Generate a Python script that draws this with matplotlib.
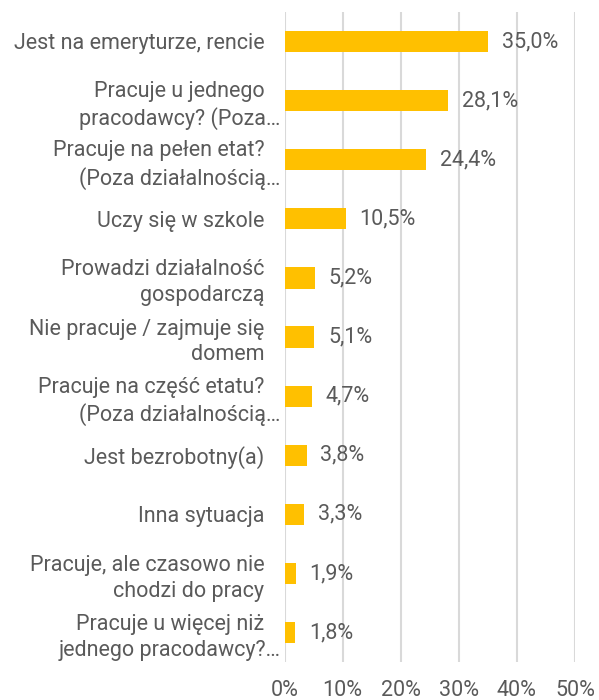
import matplotlib.pyplot as plt
from matplotlib.ticker import FuncFormatter

plt.rcParams['font.family'] = ['Roboto', 'DejaVu Sans']

# data
categories = [
    "Jest na emeryturze, rencie",
    "Pracuje u jednego\npracodawcy? (Poza…",
    "Pracuje na pełen etat?\n(Poza działalnością…",
    "Uczy się w szkole",
    "Prowadzi działalność\ngospodarczą",
    "Nie pracuje / zajmuje się\ndomem",
    "Pracuje na część etatu?\n(Poza działalnością…",
    "Jest bezrobotny(a)",
    "Inna sytuacja",
    "Pracuje, ale czasowo nie\nchodzi do pracy",
    "Pracuje u więcej niż\njednego pracodawcy?…",
]
values = [35.0, 28.1, 24.4, 10.5, 5.2, 5.1, 4.7, 3.8, 3.3, 1.9, 1.8]
xticks = [0, 10, 20, 30, 40, 50]

txt = "#5a5a5a"
bar_col = "#FFC000"
pad_sp = "\u00a0\u00a0\u00a0"


def pad_label(s):
    # word-wrapped lines keep the trailing gap, truncated ones do not
    return "\n".join(l if l.endswith("…") else l + pad_sp for l in s.split("\n"))


fig = plt.figure(figsize=(5.99, 7.0), dpi=100)
ax = fig.add_axes([0.475, 0.054, 0.485, 0.929])

pos = list(range(len(categories)))
ax.barh(pos, values, height=0.36, color=bar_col, zorder=3)
ax.set_ylim(len(categories) - 0.5, -0.5)
ax.set_xlim(0, 50)
ax.set_xticks(xticks)
ax.xaxis.set_major_formatter(FuncFormatter(lambda v, p: f"{v:.0f}%"))
ax.set_yticks(pos)
ax.set_yticklabels([pad_label(c) for c in categories], fontsize=15.5, color=txt,
                   linespacing=1.3)

for p, v in zip(pos, values):
    ax.annotate(f"{v:.1f}%".replace(".", ","), (v, p), xytext=(10, 0),
                textcoords="offset points", va="center", ha="left",
                fontsize=15.5, color=txt)

ax.grid(axis="x", color="#D9D9D9", linewidth=1.5, zorder=0)
for s in ax.spines.values():
    s.set_visible(False)
ax.tick_params(axis="both", length=0)
ax.tick_params(axis="y", pad=3)
ax.tick_params(axis="x", pad=13, labelsize=15.5, labelcolor=txt)

fig.savefig("out.png", dpi=100)
